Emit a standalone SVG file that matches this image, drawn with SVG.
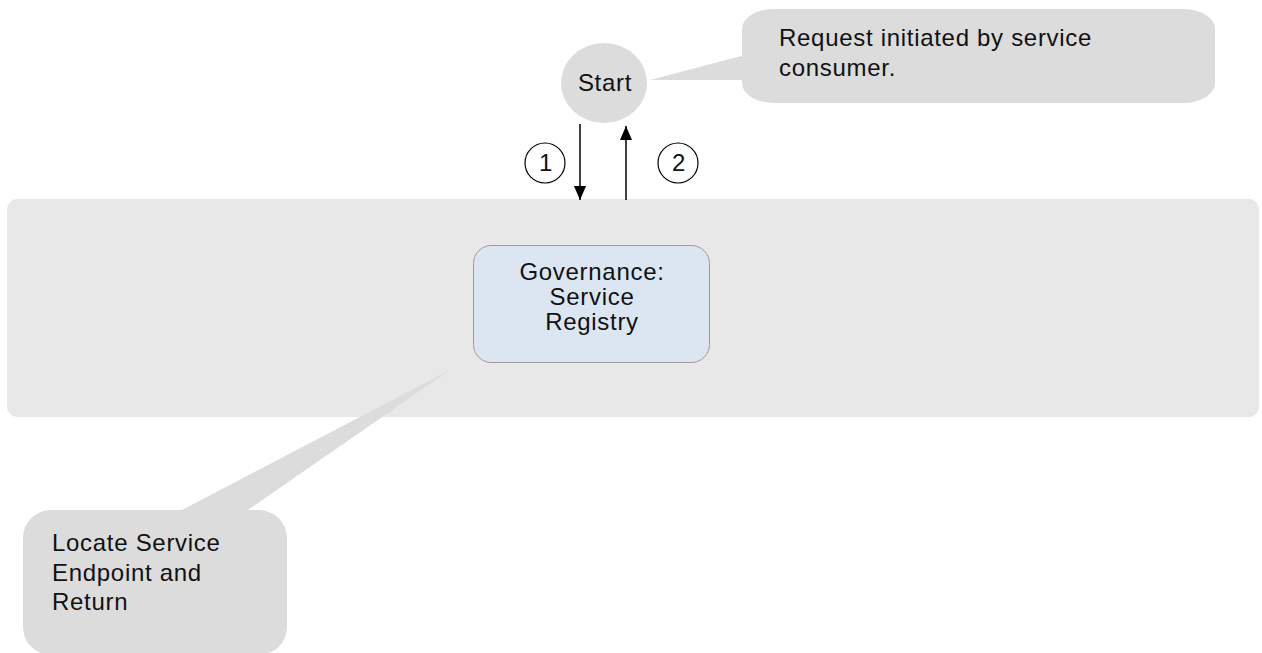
<svg xmlns="http://www.w3.org/2000/svg" width="1262" height="653" viewBox="0 0 1262 653">
<defs>
<style>
.t{font-family:"Liberation Sans",Arial,sans-serif;font-size:24px;letter-spacing:0.7px;fill:#111;}
.c{text-anchor:middle;}
.callout{fill:#dcdcdc;}
.ln{stroke:#000;stroke-width:1.5;fill:none;}
</style>
<marker id="ah" viewBox="0 0 14 12" refX="14" refY="6" markerWidth="14" markerHeight="12" markerUnits="userSpaceOnUse" orient="auto">
<path d="M0,0 L14,6 L0,12 z" fill="#000"/>
</marker>
</defs>
<rect width="1262" height="653" fill="#fff"/>
<g id="panel">
<rect x="7" y="199" width="1252" height="218" rx="10" fill="#e8e8e8"/>
</g>
<g id="callout-locate">
<path class="callout" d="M178,512 L450,370 L245,512 Z"/>
<rect class="callout" x="23" y="510" width="264" height="145" rx="28" ry="28"/>
<text class="t" x="52" y="551">Locate Service</text>
<text class="t" x="52" y="581">Endpoint and</text>
<text class="t" x="52" y="610">Return</text>
</g>
<g id="callout-request">
<path class="callout" d="M650,80 L745,55 L745,80 Z"/>
<rect class="callout" x="742" y="9" width="473" height="94" rx="32" ry="20"/>
<text class="t" x="779" y="46">Request initiated by service</text>
<text class="t" x="779" y="76">consumer.</text>
</g>
<g id="start">
<ellipse cx="604" cy="83" rx="43" ry="40" fill="#dcdcdc"/>
<text class="t c" x="605" y="91">Start</text>
</g>
<g id="registry">
<rect x="473.5" y="245.5" width="236" height="117" rx="18" fill="#dce6f2" stroke="#9a9a9a" stroke-width="1"/>
<text class="t c" x="592" y="280">Governance:</text>
<text class="t c" x="592" y="305">Service</text>
<text class="t c" x="592" y="330">Registry</text>
</g>
<g id="connectors">
<line class="ln" x1="580" y1="124" x2="580" y2="200" marker-end="url(#ah)"/>
<line class="ln" x1="626" y1="200" x2="626" y2="126" marker-end="url(#ah)"/>
</g>
<g id="label-1">
<circle cx="545" cy="163" r="20" fill="#fff" stroke="#000" stroke-width="1.2"/>
<text class="t c" x="546" y="171">1</text>
</g>
<g id="label-2">
<circle cx="678" cy="163" r="20" fill="#fff" stroke="#000" stroke-width="1.2"/>
<text class="t c" x="679" y="171">2</text>
</g>
</svg>
